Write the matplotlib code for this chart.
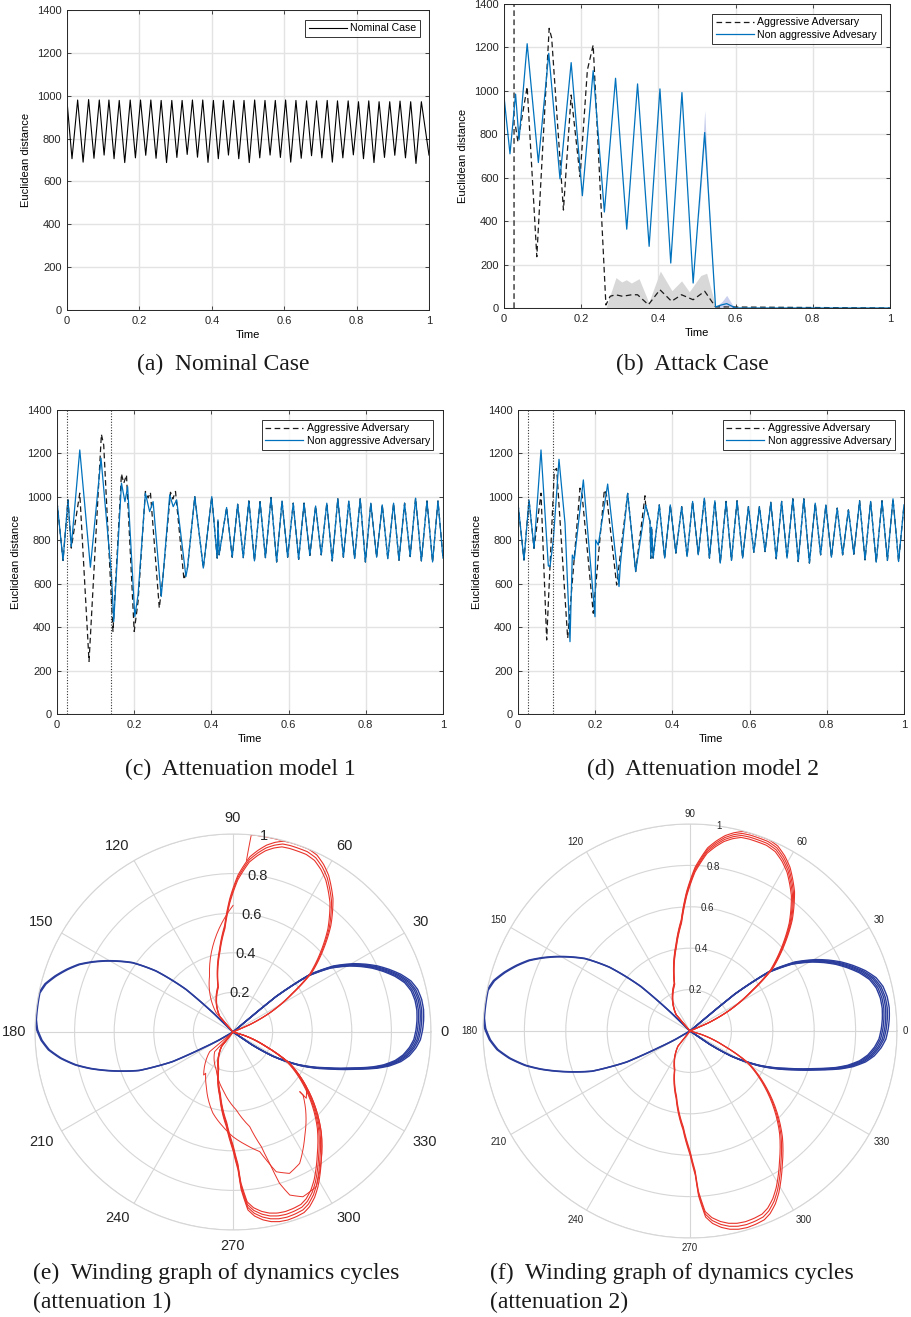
import numpy as np
import matplotlib
matplotlib.use('Agg')
import matplotlib.pyplot as plt

plt.rcParams['font.family'] = ['Liberation Sans', 'DejaVu Sans']

# ---------------- data ----------------
# (a) nominal case: peaks and troughs of the oscillation
nom_peak_t = [0.0294, 0.0597, 0.0892, 0.1158, 0.1443, 0.1746, 0.2031, 0.2316, 0.2601, 0.2895,
              0.3180, 0.3465, 0.3750, 0.4044, 0.4320, 0.4605, 0.4890, 0.5184, 0.5469, 0.5754,
              0.6039, 0.6324, 0.6618, 0.6893, 0.7188, 0.7472, 0.7767, 0.8052, 0.8336, 0.8621,
              0.8915, 0.9200, 0.9494, 0.9789]
nom_peak_v = [980, 982, 980, 980, 978, 980, 980, 980, 978, 978,
              978, 980, 980, 978, 978, 978, 978, 980, 978, 978,
              980, 978, 976, 976, 978, 976, 976, 972, 976, 972,
              972, 975, 972, 972]
nom_trough_t = [0.0, 0.0138, 0.0445, 0.0745, 0.1025, 0.130, 0.1595, 0.189, 0.2175, 0.246, 0.275,
                0.3035, 0.332, 0.3605, 0.3895, 0.418, 0.446, 0.4745, 0.5035, 0.5325, 0.561,
                0.5895, 0.618, 0.647, 0.6755, 0.704, 0.733, 0.762, 0.791, 0.819, 0.848,
                0.877, 0.9055, 0.935, 0.964, 1.0]
nom_trough_v = [975, 706, 690, 708, 723, 706, 688, 710, 722, 708, 688,
                712, 726, 713, 689, 706, 723, 706, 688, 710, 723,
                712, 690, 708, 720, 710, 690, 710, 724, 706, 688,
                712, 722, 710, 684, 723]

# (b) attack case
nonagg_b_t = [0, 0.0155, 0.030, 0.039, 0.060, 0.089, 0.116, 0.145, 0.174, 0.203, 0.231, 0.260,
              0.289, 0.318, 0.346, 0.376, 0.404, 0.432, 0.461, 0.490, 0.520, 0.548, 0.565,
              0.577, 0.600, 1.0]
nonagg_b_v = [974, 710, 985, 775, 1217, 670, 1173, 595, 1130, 517, 1093, 442,
              1058, 363, 1032, 284, 1009, 207, 992, 115, 808, 5, 15,
              20, 0, 0]
agg_b_t = [0.026, 0.026, np.nan, 0.030, 0.036, 0.060, 0.085, 0.117, 0.1235, 0.154, 0.174,
           0.197, 0.216, 0.231, 0.264, 0.275, 0.289, 0.307, 0.331, 0.346, 0.374, 0.404,
           0.434, 0.460, 0.490, 0.520, 0.548, 1.0]
agg_b_v = [0, 1700, np.nan, 835, 766, 1019, 236, 1288, 1244, 451, 981,
           605, 1096, 1211, 14, 54, 61, 54, 61, 61, 15, 84,
           31, 61, 38, 77, 5, 0]
agg_band_t = [0.264, 0.290, 0.305, 0.317, 0.330, 0.350, 0.375, 0.405, 0.435, 0.460, 0.480,
              0.510, 0.525, 0.548]
agg_band_hi = [0, 140, 120, 130, 115, 135, 25, 170, 80, 125, 75, 150, 160, 10]
nonagg_band_t = [0.505, 0.520, 0.535, 0.548, 0.565, 0.577, 0.590, 0.600]
nonagg_band_lo = [420, 780, 300, 0, 0, 10, 0, 0]
nonagg_band_hi = [460, 910, 350, 5, 30, 58, 20, 0]

# (c) attenuation model 1
nonagg_c_t = [0, 0.0156, 0.0285, 0.037, 0.059, 0.0865, 0.114, 0.141, 0.147, 0.167, 0.176, 0.183,
              0.2016, 0.21, 0.229, 0.240, 0.249, 0.27, 0.275, 0.292, 0.301, 0.31, 0.334,
              0.338, 0.357, 0.379, 0.401, 0.415, 0.417, 0.42, 0.4394,
              0.454, 0.468, 0.4825, 0.497, 0.5115, 0.526, 0.540, 0.5545, 0.569, 0.583,
              0.5975, 0.612, 0.626, 0.640, 0.655, 0.670, 0.6845, 0.699, 0.713, 0.7275,
              0.742, 0.756, 0.771, 0.7855, 0.799, 0.813, 0.828, 0.8426, 0.857, 0.872,
              0.886, 0.9005, 0.915, 0.929, 0.944, 0.9585, 0.973, 0.987, 1.0]
nonagg_c_v = [979, 707, 986, 771, 1216, 676, 1178, 641, 426, 1063, 978, 1047,
              449, 549, 1017, 932, 978, 541, 641, 1009, 955, 986, 633,
              672, 1001, 672, 1001, 718, 894, 733, 951,
              722, 966, 720, 981, 705, 978, 720, 997, 700, 981,
              722, 971, 712, 971, 730, 958, 733, 971, 705, 991,
              722, 981, 716, 991, 700, 971, 722, 963, 715, 971,
              708, 971, 725, 994, 705, 981, 700, 981, 718]
agg_c_head_t = [0, 0.0156, 0.0285, 0.037, 0.059, 0.083, 0.115, 0.121, 0.145, 0.167, 0.173,
                0.180, 0.200, 0.210, 0.229, 0.236, 0.242, 0.265, 0.275, 0.294, 0.300,
                0.307, 0.329, 0.338, 0.357]
agg_c_head_v = [979, 707, 986, 764, 1017, 242, 1288, 1239, 380, 1106, 1063,
                1101, 380, 518, 1025, 995, 1021, 488, 641, 1021, 990,
                1025, 618, 672, 1001]
attack_c = [0.027, 0.141]

# (d) attenuation model 2
nonagg_d_t = [0, 0.0155, 0.0285, 0.0415, 0.0596, 0.0786, 0.0829, 0.0915, 0.1062, 0.1218,
              0.1347, 0.1407, 0.1459, 0.1693, 0.1995, 0.2012, 0.208, 0.2323, 0.2617, 0.265,
              0.2841, 0.3048, 0.3307, 0.342, 0.344, 0.346, 0.350, 0.366,
              0.380, 0.3945, 0.409, 0.424, 0.438, 0.4524, 0.467, 0.4827, 0.496, 0.510,
              0.524, 0.539, 0.553, 0.5675, 0.582, 0.597, 0.611, 0.6254, 0.640, 0.655,
              0.669, 0.683, 0.697, 0.712, 0.726, 0.7405, 0.755, 0.770, 0.784, 0.7976,
              0.812, 0.827, 0.841, 0.856, 0.870, 0.885, 0.899, 0.9135, 0.928, 0.943,
              0.957, 0.9715, 0.986, 1.0]
nonagg_d_v = [970, 709, 986, 763, 1216, 682, 679, 801, 1173, 878,
              333, 732, 712, 1078, 448, 801, 778, 1059, 587, 686,
              1016, 656, 963, 886, 717, 860, 718, 963,
              718, 963, 741, 955, 725, 979, 733, 994, 718, 982,
              695, 979, 707, 982, 718, 955, 745, 955, 748, 975,
              715, 979, 718, 991, 702, 991, 695, 971, 733, 963,
              722, 948, 733, 940, 736, 982, 710, 979, 699, 982,
              707, 991, 702, 963]
agg_d_head_t = [0, 0.0155, 0.0285, 0.0415, 0.0596, 0.0743, 0.0941, 0.1001, 0.1287, 0.1606,
                0.166, 0.195, 0.2237, 0.229, 0.2556, 0.2841, 0.3048, 0.329]
agg_d_head_v = [970, 709, 986, 763, 1017, 341, 1122, 1131, 349, 1040,
                1010, 464, 1032, 1012, 594, 1016, 656, 1005]
attack_d = [0.026, 0.091]

# (e)/(f) winding graphs: lobes as (angle in degrees, radius)
blue_right_ang = [40, 40, 39.5, 36.8, 33.3, 29.5, 27.1, 24.6, 21.9, 19.0, 16.0, 13.0, 9.8, 6.7,
                  3.7, 0.7, -2.4, -5.0, -7.7, -10.0, -12.3, -14.1, -16.9, -20.3, -26.6, -31.3,
                  -34, -34]
blue_right_r = [0, 0.129, 0.285, 0.487, 0.608, 0.701, 0.752, 0.802, 0.849, 0.896, 0.935, 0.957,
                0.967, 0.969, 0.965, 0.958, 0.947, 0.927, 0.898, 0.861, 0.807, 0.751, 0.647,
                0.542, 0.379, 0.238, 0.116, 0]
blue_left_ang = [136, 136, 137.8, 141.6, 145.4, 150.8, 153.5, 156.3, 159.3, 162.5, 165.6, 168.6,
                 171.1, 173.5, 176.4, 179.3, 182.5, 185.5, 188.6, 191.8, 194.4, 196.8, 199.5,
                 202.3, 204.1, 206.1, 207, 208, 210, 210]
blue_left_r = [0, 0.129, 0.320, 0.497, 0.618, 0.738, 0.795, 0.851, 0.897, 0.942, 0.980, 1.0,
               1.0, 1.0, 1.0, 0.992, 0.970, 0.937, 0.883, 0.814, 0.744, 0.673, 0.593,
               0.513, 0.427, 0.340, 0.255, 0.169, 0.074, 0]
blue_right_gain = [1.0, 0.99, 0.982, 0.973, 0.965]
blue_left_gain = [1.0, 0.995]

red_up_ang = [130.4, 130.4, 108.2, 99.2, 94.5, 91.4, 88.2, 84.5, 82.1, 79.8, 77.5, 75.2, 72.9,
              70.4, 67.6, 64.6, 61.6, 58.6, 55.9, 53.1, 47.4, 42.5, 37.0, 33.0, 27.4, 23.7, 23.7]
red_up_r = [0, 0.105, 0.244, 0.424, 0.539, 0.673, 0.792, 0.889, 0.927, 0.959, 0.981, 0.997, 1.0,
            1.0, 1.0, 0.989, 0.962, 0.927, 0.885, 0.841, 0.730, 0.620, 0.499, 0.364, 0.210,
            0.093, 0]
red_low_ang = [231.5, 231.5, 248.5, 258.4, 266, 270, 272.1, 273, 274.8, 276.7, 279.1, 281.4,
               283.8, 286.3, 288.9, 291.5, 293.7, 296.3, 298.8, 304.6, 311.1, 316.9, 323.3,
               331.1, 336.3, 343.3, 343.3]
red_low_r = [0, 0.095, 0.206, 0.333, 0.479, 0.596, 0.697, 0.799, 0.902, 0.936, 0.961, 0.977,
             0.986, 0.989, 0.986, 0.980, 0.963, 0.931, 0.891, 0.785, 0.679, 0.576, 0.462,
             0.327, 0.184, 0.053, 0]

# (e) extra transient traces
red_e_gain_up = [1.0, 0.985, 0.97]
red_e_gain_low = [1.0, 0.985, 0.97, 0.955]
red_e_spike_ang = [85.5, 84.7, 76.2]
red_e_spike_r = [0.87, 1.0, 0.998]
red_e_left_ang = [90, 112.7, 131.3, 131.3]
red_e_left_r = [0.639, 0.307, 0.128, 0]
red_e_a_ang = [220, 220.1, 235.7, 236.5, 244.0, 256.2, 264.0, 270, 276.7, 282.6, 284.6, 287.2,
               291.8, 296.9, 304.4, 313.0, 318.0, 318.2, 317.9, 323.3, 331.1, 336.3, 343.3, 343.3]
red_e_a_r = [0, 0.154, 0.263, 0.250, 0.307, 0.423, 0.481, 0.529, 0.575, 0.619, 0.668, 0.739,
             0.769, 0.744, 0.641, 0.538, 0.476, 0.452, 0.499, 0.462, 0.327, 0.184, 0.053, 0]
red_e_b_ang = [227, 227.0, 246.3, 260.2, 272.4, 280.0, 283.9, 285.6, 287.1, 289.2, 293.0, 298.3,
               304.6, 311.1, 316.9, 323.3, 331.1, 336.3, 343.3, 343.3]
red_e_b_r = [0, 0.136, 0.210, 0.297, 0.394, 0.485, 0.597, 0.689, 0.800, 0.872, 0.904, 0.887,
             0.785, 0.679, 0.576, 0.462, 0.327, 0.184, 0.053, 0]
red_f_gain_up = [1.0, 0.99, 0.98, 0.97]
red_f_gain_low = [1.0, 0.985, 0.97]

theta_ticks = [0, 30, 60, 90, 120, 150, 180, 210, 240, 270, 300, 330]
r_ticks = [0.2, 0.4, 0.6, 0.8, 1.0]
r_tick_labels = ['0.2', '0.4', '0.6', '0.8', '1']

captions = ['(a)  Nominal Case', '(b)  Attack Case', '(c)  Attenuation model 1',
            '(d)  Attenuation model 2',
            '(e)  Winding graph of dynamics cycles', '(attenuation 1)',
            '(f)  Winding graph of dynamics cycles', '(attenuation 2)']

# ---------------- drawing ----------------
W, H = 912, 1317
BLUE = '#0072BD'
GRID = '#e3e3e3'
fig = plt.figure(figsize=(W / 100, H / 100), dpi=100)


def px_axes(x0, y0, x1, y1, **kw):
    return fig.add_axes([x0 / W, 1 - y1 / H, (x1 - x0) / W, (y1 - y0) / H], **kw)


def style_cart(ax):
    ax.set_xlim(0, 1)
    ax.set_ylim(0, 1400)
    ax.set_xticks([0, 0.2, 0.4, 0.6, 0.8, 1.0])
    ax.set_xticklabels(['0', '0.2', '0.4', '0.6', '0.8', '1'])
    ax.set_yticks(range(0, 1401, 200))
    ax.grid(True, color=GRID, lw=1.0)
    ax.set_axisbelow(True)
    ax.tick_params(direction='in', length=3, width=0.6, labelsize=8, colors='#262626',
                   top=True, right=True, pad=4)
    for s in ax.spines.values():
        s.set_color('#262626')
        s.set_linewidth(0.7)
    ax.set_xlabel('Time', fontsize=8, labelpad=3)
    ax.set_ylabel('Euclidean distance', fontsize=8, labelpad=4)


def add_legend(ax):
    leg = ax.legend(loc='upper right', fontsize=7.6, frameon=True, fancybox=False,
                    handlelength=3.6, handletextpad=0.3, borderpad=0.35, labelspacing=0.25,
                    borderaxespad=0.9)
    leg.get_frame().set_edgecolor('black')
    leg.get_frame().set_linewidth(0.7)


DASH = dict(color='#1a1a1a', lw=0.9, ls=(0, (4.5, 2.8)))

# (a)
ax = px_axes(67, 10, 429, 310)
nom = sorted(zip(nom_peak_t + nom_trough_t, nom_peak_v + nom_trough_v))
ax.plot([p[0] for p in nom], [p[1] for p in nom], color='black', lw=0.8, label='Nominal Case')
style_cart(ax)
add_legend(ax)

# (b)
ax = px_axes(504, 4, 890, 308)
ax.fill_between(agg_band_t, 0, agg_band_hi, color='#d8d8d8', lw=0)
ax.fill_between(nonagg_band_t, nonagg_band_lo, nonagg_band_hi, color='#c9cfec', lw=0)
ax.plot(agg_b_t, agg_b_v, label='Aggressive Adversary', **DASH)
ax.plot(nonagg_b_t, nonagg_b_v, color=BLUE, lw=0.9, label='Non aggressive Advesary')
style_cart(ax)
add_legend(ax)

# (c)
ax = px_axes(57, 410, 443, 714)
tail = [i for i, t in enumerate(nonagg_c_t) if t > agg_c_head_t[-1]]
ax.plot(agg_c_head_t + [nonagg_c_t[i] for i in tail],
        agg_c_head_v + [nonagg_c_v[i] for i in tail], label='Aggressive Adversary', **DASH)
ax.plot(nonagg_c_t, nonagg_c_v, color=BLUE, lw=0.9, label='Non aggressive Adversary')
for t in attack_c:
    ax.axvline(t, color='#333333', lw=0.8, ls=(0, (1, 1.5)))
style_cart(ax)
add_legend(ax)

# (d)
ax = px_axes(518, 410, 904, 714)
tail = [i for i, t in enumerate(nonagg_d_t) if t > agg_d_head_t[-1]]
ax.plot(agg_d_head_t + [nonagg_d_t[i] for i in tail],
        agg_d_head_v + [nonagg_d_v[i] for i in tail], label='Aggressive Adversary', **DASH)
ax.plot(nonagg_d_t, nonagg_d_v, color=BLUE, lw=0.9, label='Non aggressive Adversary')
for t in attack_d:
    ax.axvline(t, color='#333333', lw=0.8, ls=(0, (1, 1.5)))
style_cart(ax)
add_legend(ax)


# (e), (f) polar
def theta_align(a):
    if a == 0:
        return 'left', 'center'
    if a == 90:
        return 'center', 'bottom'
    if a == 180:
        return 'right', 'center'
    if a == 270:
        return 'center', 'top'
    ha = 'left' if (a < 90 or a > 270) else 'right'
    va = 'bottom' if a < 180 else 'top'
    return ha, va


def style_polar(ax, fs, lab_r, rlab_angle):
    ax.set_ylim(0, 1)
    ax.set_thetagrids(theta_ticks, [''] * len(theta_ticks))
    ax.set_rgrids(r_ticks, [''] * len(r_ticks))
    ax.tick_params(axis='x', length=0)
    ax.grid(True, color='#d6d6d6', lw=0.8)
    ax.spines['polar'].set_color('#d6d6d6')
    ax.spines['polar'].set_linewidth(0.8)
    ax.set_axisbelow(True)
    for a in theta_ticks:
        ha, va = theta_align(a)
        ax.text(np.radians(a), lab_r, str(a), fontsize=fs, color='#262626',
                ha=ha, va=va, clip_on=False)
    for r, lab in zip(r_ticks, r_tick_labels):
        ax.text(np.radians(rlab_angle), r, lab, fontsize=fs, color='#262626',
                ha='center', va='center')


def trace(ax, ang, r, color, lw):
    line, = ax.plot(np.radians(ang), r, color=color, lw=lw)
    line.get_path()._interpolation_steps = 12


def lobe(ax, ang, r, gains, color, lw):
    for g in gains:
        trace(ax, ang, np.array(r) * g, color, lw)


RED = '#e8332a'
NAVY = '#2b3d9c'

ax = px_axes(35, 834, 431, 1230, projection='polar')
style_polar(ax, 10.5, 1.045, 81)
lobe(ax, blue_right_ang, blue_right_r, blue_right_gain, NAVY, 1.0)
lobe(ax, blue_left_ang, blue_left_r, blue_left_gain, NAVY, 1.1)
lobe(ax, red_up_ang, red_up_r, red_e_gain_up, RED, 0.8)
lobe(ax, red_low_ang, red_low_r, red_e_gain_low, RED, 0.8)
trace(ax, red_e_spike_ang, red_e_spike_r, RED, 0.7)
trace(ax, red_e_left_ang, red_e_left_r, RED, 0.7)
trace(ax, red_e_a_ang, red_e_a_r, RED, 0.7)
trace(ax, red_e_b_ang, red_e_b_r, RED, 0.7)

ax = px_axes(483, 824, 897, 1238, projection='polar')
style_polar(ax, 7, 1.025, 82)
lobe(ax, blue_right_ang, blue_right_r, blue_right_gain, NAVY, 1.0)
lobe(ax, blue_left_ang, blue_left_r, blue_left_gain, NAVY, 1.1)
lobe(ax, red_up_ang, red_up_r, red_f_gain_up, RED, 0.8)
lobe(ax, red_low_ang, red_low_r, red_f_gain_low, RED, 0.8)

# captions
cap_kw = dict(fontsize=17, family=['Liberation Serif', 'DejaVu Serif'], color='#1a1a1a',
              va='center')
fig.text(223 / W, 1 - 364 / H, captions[0], ha='center', **cap_kw)
fig.text(692 / W, 1 - 364 / H, captions[1], ha='center', **cap_kw)
fig.text(240 / W, 1 - 769 / H, captions[2], ha='center', **cap_kw)
fig.text(703 / W, 1 - 769 / H, captions[3], ha='center', **cap_kw)
fig.text(33 / W, 1 - 1273 / H, captions[4], ha='left', **cap_kw)
fig.text(33 / W, 1 - 1302 / H, captions[5], ha='left', **cap_kw)
fig.text(490 / W, 1 - 1273 / H, captions[6], ha='left', **cap_kw)
fig.text(490 / W, 1 - 1302 / H, captions[7], ha='left', **cap_kw)

fig.savefig('out.png', dpi=100)
